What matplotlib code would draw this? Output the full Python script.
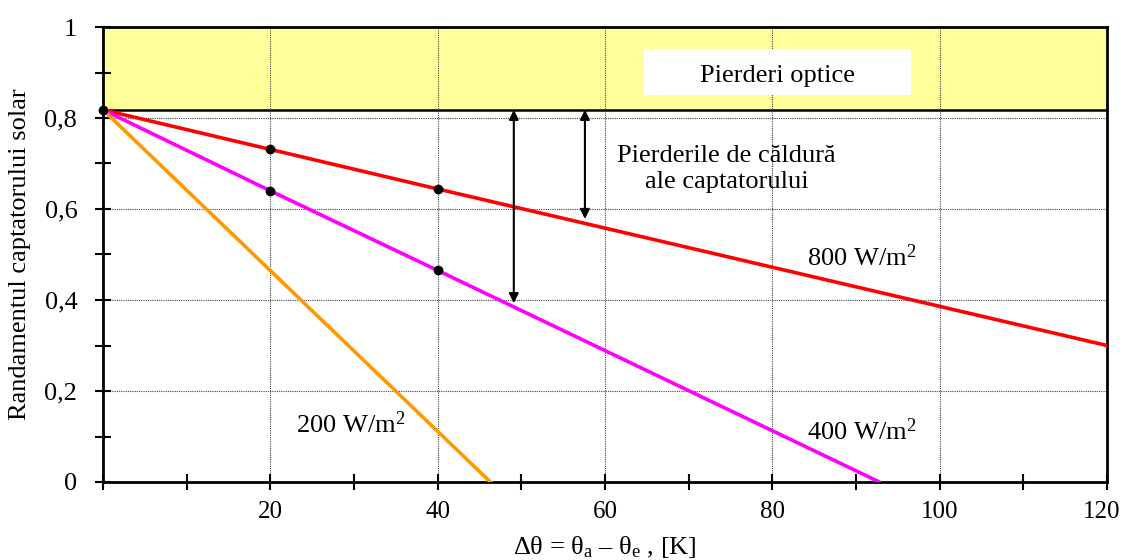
import matplotlib.pyplot as plt
import matplotlib.transforms as mtransforms
from matplotlib.ticker import MultipleLocator, FixedLocator

# date
eta0 = 0.818
x_800 = [0, 20, 40, 120]
y_800 = [eta0, 0.731, 0.644, 0.300]
x_400 = [0, 20, 40, 92.8]
y_400 = [eta0, 0.640, 0.465, 0.0]
x_200 = [0, 46.3]
y_200 = [eta0, 0.0]
pct_x = [0, 20, 40, 20, 40]
pct_y = [eta0, 0.731, 0.644, 0.640, 0.465]
xticks = [20, 40, 60, 80, 100, 120]
xtick_labels = ['20', '40', '60', '80', '100', '120']
yticks = [0, 0.2, 0.4, 0.6, 0.8, 1.0]
ytick_labels = ['0', '0,2', '0,4', '0,6', '0,8', '1']

plt.rcParams['font.family'] = ['Liberation Serif', 'DejaVu Serif']
plt.rcParams['mathtext.fontset'] = 'custom'
plt.rcParams['mathtext.rm'] = 'Liberation Serif'
plt.rcParams['mathtext.it'] = 'Liberation Serif:italic'

FS = 19

fig = plt.figure(figsize=(11.23, 5.60), dpi=100)
ax = fig.add_axes([103/1123, 78/560, 1004/1123, 455/560])
ax.set_xlim(0, 120)
ax.set_ylim(0, 1)

# zona pierderi optice
ax.axhspan(eta0, 1, color='#ffff99', zorder=0)
ax.axhline(eta0, color='black', lw=1.8, zorder=3)
ax.add_patch(plt.Rectangle((64.7, 0.851), 31.9, 0.101, facecolor='white',
                           edgecolor='none', zorder=2))
ax.text(80.6, 0.893, 'Pierderi optice', ha='center', va='center', fontsize=FS, zorder=4)

# grila
for gx in [20, 40, 60, 80, 100]:
    ax.axvline(gx, color='#444444', lw=0.8, ls=(0, (1, 1)), zorder=1)
for gy in [0.2, 0.4, 0.6, 0.8]:
    ax.axhline(gy, color='#444444', lw=0.8, ls=(0, (1, 1)), zorder=1)

ax.plot(x_800, y_800, color='#ff0000', lw=2.6, zorder=5)
ax.plot(x_400, y_400, color='#ff00ff', lw=2.6, zorder=5)
ax.plot(x_200, y_200, color='#ff9900', lw=2.6, zorder=5)
ax.plot(pct_x, pct_y, 'o', color='black', ms=6, zorder=6, clip_on=False)

# sageti
ax.annotate('', xy=(49.1, 0.393), xytext=(49.1, eta0),
            arrowprops=dict(arrowstyle='<|-|>', color='black', lw=1.5,
                            mutation_scale=14, shrinkA=0, shrinkB=0), zorder=7)
ax.annotate('', xy=(57.6, 0.578), xytext=(57.6, eta0),
            arrowprops=dict(arrowstyle='<|-|>', color='black', lw=1.5,
                            mutation_scale=14, shrinkA=0, shrinkB=0), zorder=7)

ax.text(74.5, 0.688, 'Pierderile de căldură\nale captatorului', ha='center',
        va='center', fontsize=FS, linespacing=1.2)
ax.text(90.7, 0.492, r'800 W/m$^2$', ha='center', va='center', fontsize=FS)
ax.text(90.7, 0.110, r'400 W/m$^2$', ha='center', va='center', fontsize=FS)
ax.text(29.6, 0.125, r'200 W/m$^2$', ha='center', va='center', fontsize=FS)

ax.xaxis.set_major_locator(FixedLocator(xticks))
ax.set_xticklabels(xtick_labels)
ax.xaxis.set_minor_locator(MultipleLocator(10))
ax.yaxis.set_major_locator(FixedLocator(yticks))
ax.set_yticklabels(ytick_labels)
ax.yaxis.set_minor_locator(MultipleLocator(0.1))
ax.tick_params(which='both', direction='inout', length=11, width=1.5, labelsize=FS,
               color='black')
ax.tick_params(axis='x', labelsize=18, pad=8)
ax.tick_params(axis='y', pad=13)
for s in ax.spines.values():
    s.set_linewidth(2)

# ultima eticheta putin spre stanga ca sa nu fie taiata
last = ax.get_xticklabels()[-1]
last.set_transform(last.get_transform() + mtransforms.ScaledTranslation(-5/100, 0, fig.dpi_scale_trans))

ax.set_ylabel('Randamentul captatorului solar', fontsize=FS)
ax.yaxis.set_label_coords(-72/1004, 0.5)
ax.set_xlabel(r'Δθ = θ$_\mathrm{a}$ – θ$_\mathrm{e}$ , [K]', fontsize=FS)
ax.xaxis.set_label_coords(0.5, -52/455)

fig.savefig('out.png', dpi=100)
